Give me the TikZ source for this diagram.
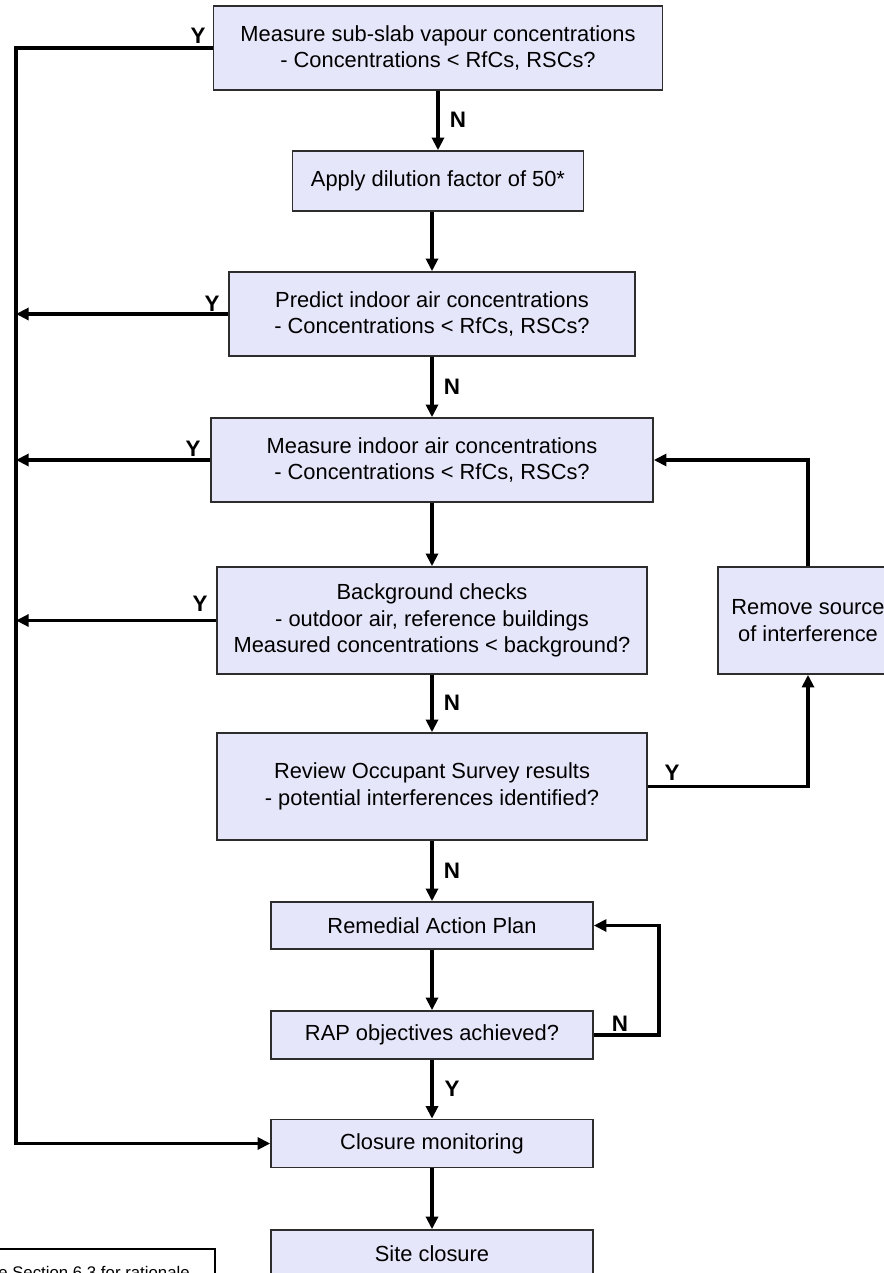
\documentclass[tikz,border=0pt]{standalone}
\usepackage{fontspec}
\setmainfont{Liberation Sans}
\usetikzlibrary{arrows.meta,positioning}
\definecolor{boxfill}{RGB}{230,230,250}
\definecolor{boxline}{RGB}{45,45,45}
\tikzset{
  stage/.style 2 args={draw=boxline, line width=1.2pt, fill=boxfill, align=center,
    minimum width=#1*0.75pt, minimum height=#2*0.75pt, inner sep=0pt,
    font=\fontsize{16.4}{19.8}\selectfont},
  link/.style={line width=2.4pt},
  flow/.style={link, -{Triangle[length=9.5pt,width=9pt]}},
  answer/.style={font=\bfseries\fontsize{16.8}{19.8}\selectfont, inner sep=0pt},
}
\begin{document}
\begin{tikzpicture}[x=0.75pt, y=-0.75pt]
        \useasboundingbox (0,0) rectangle (884,1273);
        \clip (0,0) rectangle (884,1273);
        % main column
        \node[stage={449}{84}] (subslab) at (438,48) {Measure sub-slab vapour concentrations\\- Concentrations < RfCs, RSCs?};
        \node[stage={291}{60}] (dilution) at (438,181) {Apply dilution factor of 50*};
        \node[stage={406}{84}] (predict) at (432,314) {Predict indoor air concentrations\\- Concentrations < RfCs, RSCs?};
        \node[stage={442}{84}] (indoor) at (432,460) {Measure indoor air concentrations\\- Concentrations < RfCs, RSCs?};
        \node[stage={430}{107}] (background) at (432,620.5) {Background checks\\- outdoor air, reference buildings\\Measured concentrations < background?};
        \node[stage={430}{107}] (survey) at (432,786.5) {Review Occupant Survey results\\- potential interferences identified?};
        \node[stage={322}{47}] (rap) at (432,925.5) {Remedial Action Plan};
        \node[stage={322}{48}] (objectives) at (432,1035) {RAP objectives achieved?};
        \node[stage={322}{48}] (closure) at (432,1143.5) {Closure monitoring};
        \node[stage={322}{48}] (site) at (432,1254) {Site closure};
        % side box
        \node[stage={180}{107}] (remove) at (808,620.5) {Remove source\\of interference};
        % downward arrows
        \draw[flow] (subslab.south) -- (dilution.north);
        \draw[flow] (predict.north |- dilution.south) -- (predict.north);
        \foreach \a/\b in {predict/indoor, indoor/background, background/survey,
                           survey/rap, rap/objectives, objectives/closure, closure/site} {
            \draw[flow] (\a.south) -- (\b.north);
        }
        \node[answer] (nsubslab) at (458,120) {N};
        \foreach \y/\lab in {387/N, 703/N, 871/N, 1089/Y} {
            \node[answer] (down\y) at (452,\y) {\lab};
        }
        % left rail to closure monitoring
        \coordinate (railtop) at (16,48);
        \coordinate (railbot) at (16,1143.5);
        \draw[flow] (subslab.west) -- (railtop) -- (railbot) -- (closure.west);
        \foreach \b in {predict, indoor, background} {
            \draw[flow] (\b.west) -- (railtop |- \b.west);
        }
        \node[answer] (ysubslab) at (198,36) {Y};
        \node[answer] (ypredict) at (212,304) {Y};
        \node[answer] (yindoor) at (193,449) {Y};
        \node[answer] (ybackground) at (200,604) {Y};
        % interference loop
        \draw[flow] (survey.east) -| (remove.south);
        \draw[flow] (remove.north) |- (indoor.east);
        \node[answer] (ysurvey) at (672,773) {Y};
        % RAP loop
        \coordinate (raploop) at (659,1035);
        \draw[flow] (objectives.east) -- (raploop) |- (rap.east);
        \node[answer] (nobjectives) at (620,1024) {N};
        % footnote
        \draw[line width=0.8pt] (-10,1249) rectangle (215,1300);
        \node[anchor=base east, inner sep=0pt, font=\fontsize{12.6}{15}\selectfont] (note) at (190,1278) {*See Section 6.3 for rationale};
\end{tikzpicture}
\end{document}
